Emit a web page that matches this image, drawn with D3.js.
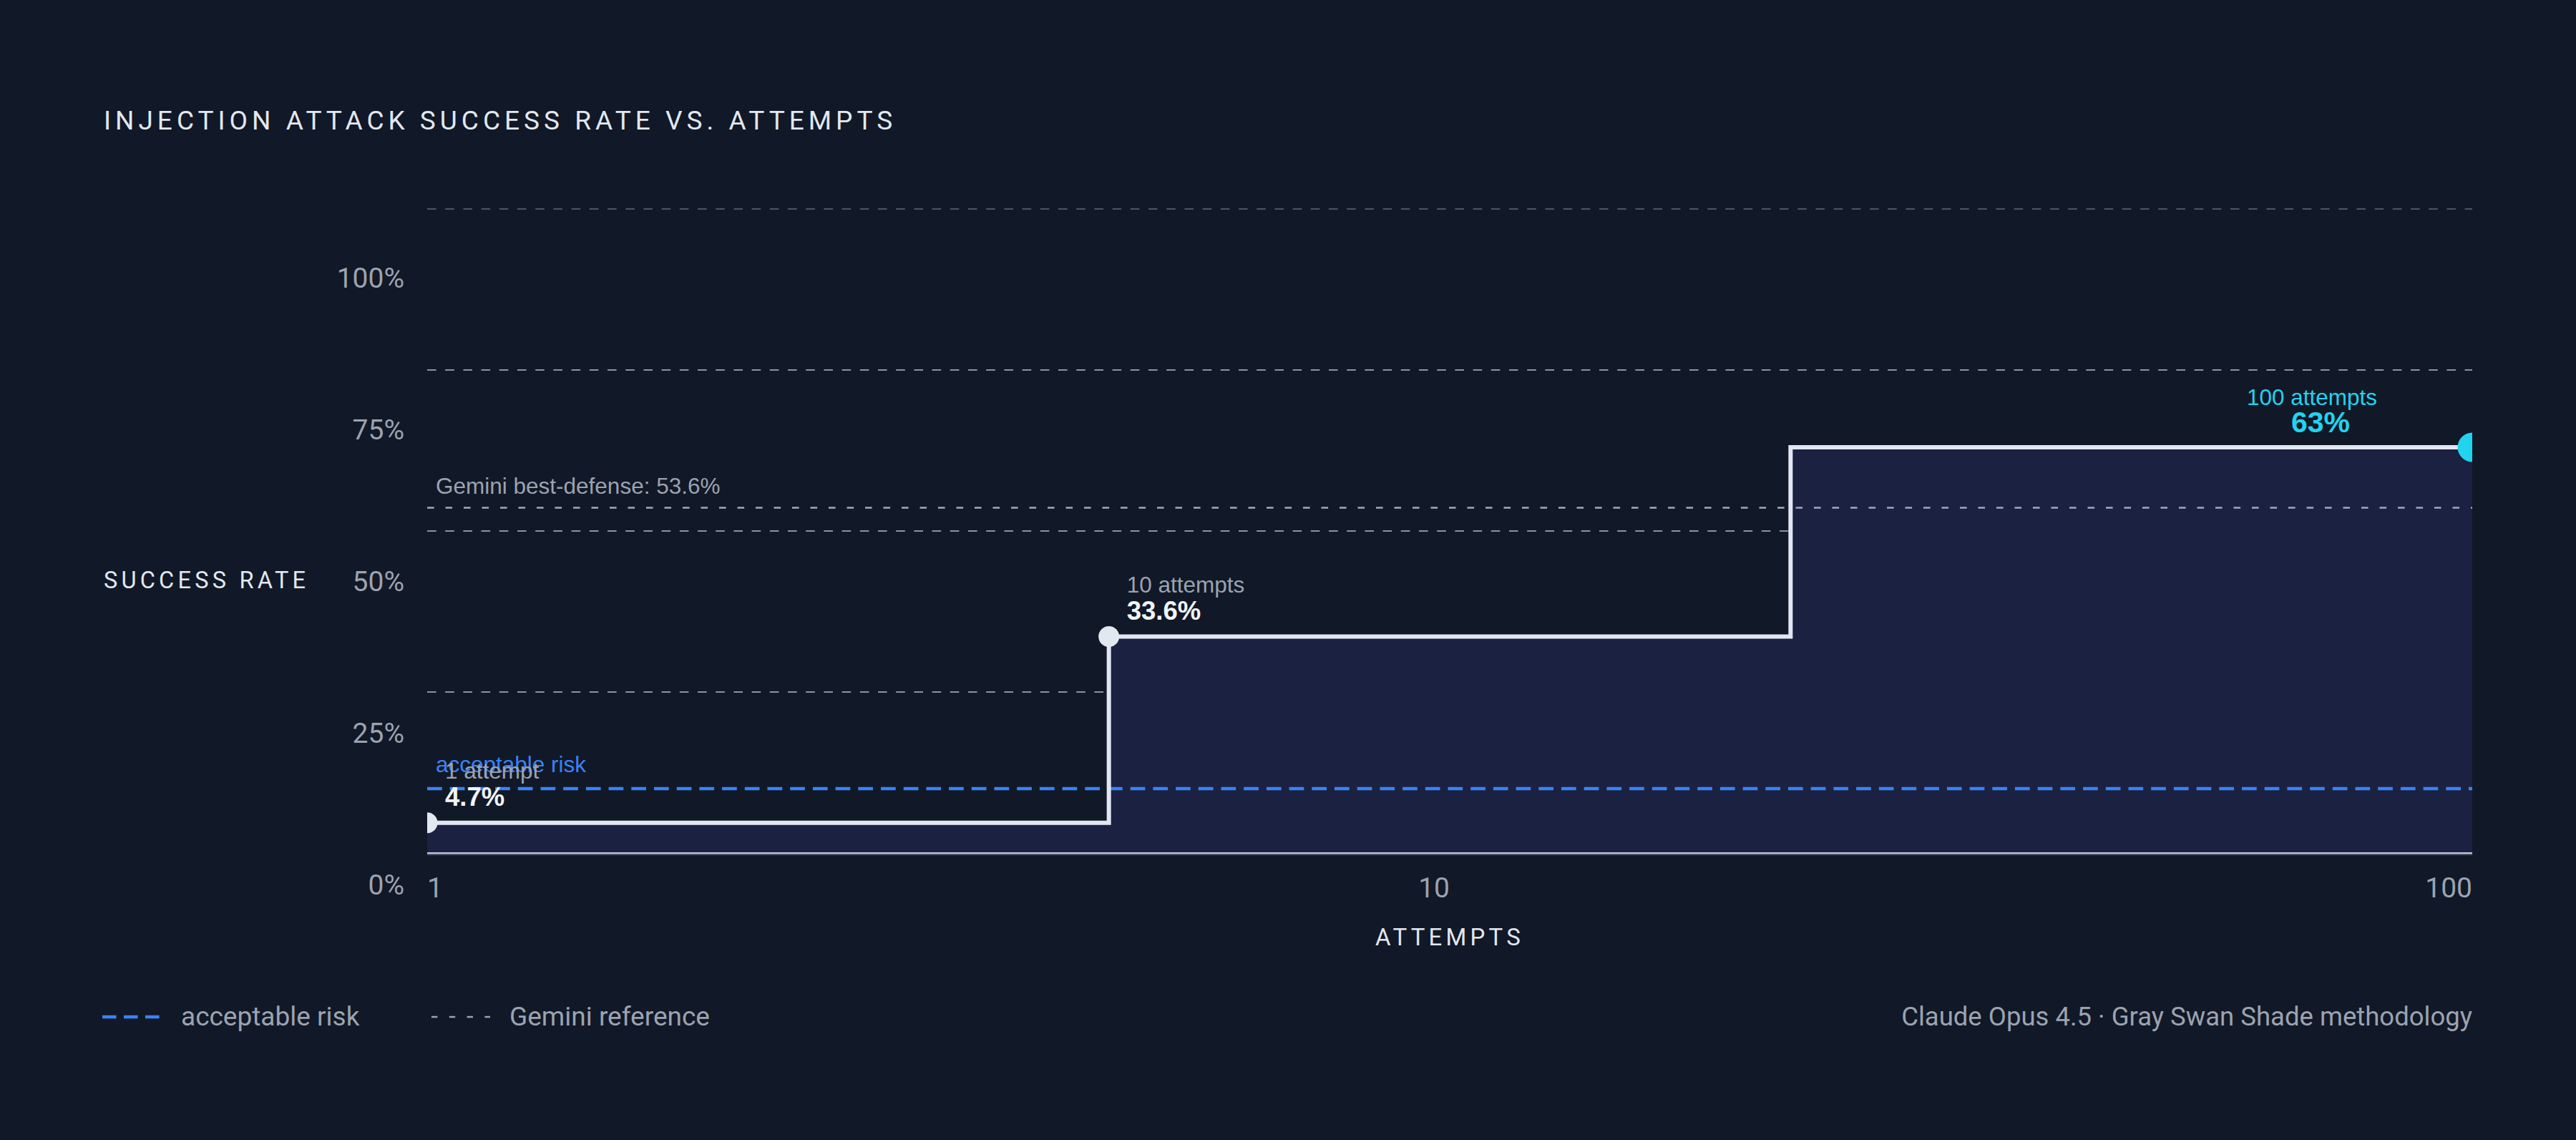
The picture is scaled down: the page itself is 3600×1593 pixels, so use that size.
<!DOCTYPE html>
<html>
<head>
<meta charset="utf-8">
<script src="https://cdn.jsdelivr.net/npm/d3@7"></script>
<style>
  html, body { margin: 0; padding: 0; background: #111827; }
  svg { display: block; }
</style>
</head>
<body>
<svg id="chart"></svg>
<script>
// data
const attempts = [1, 10, 100];
const attemptLabels = ['1 attempt', '10 attempts', '100 attempts'];
const successRate = [4.7, 33.6, 63];
const acceptableRisk = 10;
const geminiBest = 53.6;
const gridTicks = [25, 50, 75, 100];
const yTickLabels = [0, 25, 50, 75, 100];
const xTicks = [1, 10, 100];

const width = 3600;
const height = 1593;
const plot = { left: 597, right: 3455, top: 292, bottom: 1192 };

const uiFont = "Roboto, 'Noto Sans', sans-serif";
const labelFont = "'Liberation Sans', Arial, sans-serif";

const svg = d3.select('#chart').attr('width', width).attr('height', height);

svg.append('rect').attr('width', width).attr('height', height).attr('fill', '#111827');

// scales
const y = d3.scaleLinear().domain([0, 100]).range([plot.bottom, plot.top]);
// tick labels sit in their own column, a little off the grid
const yLabel = d3.scaleLinear().domain([0, 100]).range([1236, 388]);
const xLog = d3.scaleLog().domain([1, 100]).range([plot.left, plot.right]);
// each attempt level takes an equal segment of the width
const xSeg = d3.scaleLinear().domain([0, attempts.length]).range([plot.left, plot.right]);

// title
svg.append('text')
  .attr('x', 145)
  .attr('y', 181)
  .attr('fill', '#e2e8f0')
  .attr('font-family', uiFont)
  .attr('font-size', 37)
  .attr('letter-spacing', 6)
  .text('INJECTION ATTACK SUCCESS RATE VS. ATTEMPTS');

svg.append('defs').append('clipPath').attr('id', 'plot-clip')
  .append('rect')
  .attr('x', plot.left)
  .attr('y', plot.top - 60)
  .attr('width', plot.right - plot.left)
  .attr('height', plot.bottom - plot.top + 60);

// grid
svg.append('g')
  .selectAll('line')
  .data(gridTicks)
  .enter()
  .append('line')
  .attr('x1', plot.left)
  .attr('x2', plot.right)
  .attr('y1', d => y(d))
  .attr('y2', d => y(d))
  .attr('stroke', d => (d === 100 ? '#4b5563' : '#8a94a6'))
  .attr('stroke-width', 2)
  .attr('stroke-dasharray', '12.6 12.6');

// y labels
svg.append('g')
  .selectAll('text')
  .data(yTickLabels)
  .enter()
  .append('text')
  .attr('x', 565)
  .attr('y', d => yLabel(d))
  .attr('dy', '0.35em')
  .attr('text-anchor', 'end')
  .attr('fill', '#9ca3af')
  .attr('font-family', uiFont)
  .attr('font-size', 39)
  .text(d => d + '%');

svg.append('text')
  .attr('x', 145)
  .attr('y', 822)
  .attr('fill', '#e2e8f0')
  .attr('font-family', uiFont)
  .attr('font-size', 32.5)
  .attr('letter-spacing', 5.2)
  .text('SUCCESS RATE');

// step series
const stepPoints = successRate.map((v, i) => [i, v]);
stepPoints.push([attempts.length, successRate[successRate.length - 1]]);

const chart = svg.append('g').attr('clip-path', 'url(#plot-clip)');

const area = d3.area()
  .curve(d3.curveStepAfter)
  .x(d => xSeg(d[0]))
  .y0(y(0))
  .y1(d => y(d[1]));

const line = d3.line()
  .curve(d3.curveStepAfter)
  .x(d => xSeg(d[0]))
  .y(d => y(d[1]));

chart.append('path')
  .datum(stepPoints)
  .attr('d', area)
  .attr('fill', '#1b2141');

// gemini reference
chart.append('line')
  .attr('x1', plot.left)
  .attr('x2', plot.right)
  .attr('y1', y(geminiBest))
  .attr('y2', y(geminiBest))
  .attr('stroke', '#a3aab8')
  .attr('stroke-width', 2.5)
  .attr('stroke-dasharray', '9.6 15.9');

svg.append('text')
  .attr('x', plot.left + 12)
  .attr('y', y(geminiBest) - 20)
  .attr('fill', '#9ca3af')
  .attr('font-family', labelFont)
  .attr('font-size', 31.5)
  .text('Gemini best-defense: ' + geminiBest + '%');

// acceptable risk
chart.append('line')
  .attr('x1', plot.left)
  .attr('x2', plot.right)
  .attr('y1', y(acceptableRisk))
  .attr('y2', y(acceptableRisk))
  .attr('stroke', '#3b82f6')
  .attr('stroke-width', 4.5)
  .attr('stroke-dasharray', '20.7 11');

// baseline
svg.append('line')
  .attr('x1', plot.left)
  .attr('x2', plot.right)
  .attr('y1', y(0) + 2)
  .attr('y2', y(0) + 2)
  .attr('stroke', '#4b5563')
  .attr('stroke-width', 2);
svg.append('line')
  .attr('x1', plot.left)
  .attr('x2', plot.right)
  .attr('y1', y(0))
  .attr('y2', y(0))
  .attr('stroke', '#c7cde6')
  .attr('stroke-width', 2);

chart.append('path')
  .datum(stepPoints)
  .attr('d', line)
  .attr('fill', 'none')
  .attr('stroke', '#e2e6f3')
  .attr('stroke-width', 6);

// markers
const lastIdx = attempts.length - 1;
const markerX = i => xSeg(i === lastIdx ? attempts.length : i);

chart.selectAll('circle')
  .data(successRate)
  .enter()
  .append('circle')
  .attr('cx', (d, i) => markerX(i))
  .attr('cy', d => y(d))
  .attr('r', (d, i) => (i === lastIdx ? 20.5 : 14.5))
  .attr('fill', (d, i) => (i === lastIdx ? '#22d3ee' : '#e2e8f0'));

svg.append('text')
  .attr('x', plot.left + 12)
  .attr('y', y(acceptableRisk) - 23)
  .attr('fill', '#3b82f6')
  .attr('font-family', labelFont)
  .attr('font-size', 31.5)
  .text('acceptable risk');

// point annotations
const notes = svg.append('g');
successRate.forEach((v, i) => {
  const last = i === lastIdx;
  const px = markerX(i);
  const py = y(v);
  notes.append('text')
    .attr('x', last ? px - 224 : px + 25)
    .attr('y', py - (last ? 59 : 62))
    .attr('text-anchor', last ? 'middle' : 'start')
    .attr('fill', last ? '#22d3ee' : '#9ca3af')
    .attr('font-family', labelFont)
    .attr('font-size', 31.5)
    .text(attemptLabels[i]);
  notes.append('text')
    .attr('x', last ? px - 212 : px + 25)
    .attr('y', py - (last ? 21 : 24))
    .attr('text-anchor', last ? 'middle' : 'start')
    .attr('fill', last ? '#22d3ee' : '#f1f5f9')
    .attr('font-family', labelFont)
    .attr('font-weight', 'bold')
    .attr('font-size', last ? 41 : 36.5)
    .text(v + '%');
});

// x axis labels
svg.append('g')
  .selectAll('text')
  .data(xTicks)
  .enter()
  .append('text')
  .attr('x', d => xLog(d))
  .attr('y', 1254)
  .attr('text-anchor', (d, i) => (i === 0 ? 'start' : 'end'))
  .attr('fill', '#9ca3af')
  .attr('font-family', uiFont)
  .attr('font-size', 39)
  .text(d => d);

svg.append('text')
  .attr('x', (plot.left + plot.right) / 2)
  .attr('y', 1321)
  .attr('text-anchor', 'middle')
  .attr('fill', '#e2e8f0')
  .attr('font-family', uiFont)
  .attr('font-size', 33)
  .attr('letter-spacing', 5.2)
  .text('ATTEMPTS');

// legend
const legend = svg.append('g');
legend.append('line')
  .attr('x1', 143).attr('x2', 223)
  .attr('y1', 1421).attr('y2', 1421)
  .attr('stroke', '#3b82f6')
  .attr('stroke-width', 4.5)
  .attr('stroke-dasharray', '19.6 10.4');
legend.append('text')
  .attr('x', 253).attr('y', 1433)
  .attr('fill', '#9ca3af')
  .attr('font-family', uiFont)
  .attr('font-size', 37)
  .text('acceptable risk');
legend.append('line')
  .attr('x1', 603).attr('x2', 685)
  .attr('y1', 1421).attr('y2', 1421)
  .attr('stroke', '#9ca3af')
  .attr('stroke-width', 2.5)
  .attr('stroke-dasharray', '8.4 16.4');
legend.append('text')
  .attr('x', 712).attr('y', 1433)
  .attr('fill', '#9ca3af')
  .attr('font-family', uiFont)
  .attr('font-size', 37)
  .text('Gemini reference');

svg.append('text')
  .attr('x', plot.right).attr('y', 1433)
  .attr('text-anchor', 'end')
  .attr('fill', '#9ca3af')
  .attr('font-family', uiFont)
  .attr('font-size', 36.5)
  .text('Claude Opus 4.5 · Gray Swan Shade methodology');
</script>
</body>
</html>
